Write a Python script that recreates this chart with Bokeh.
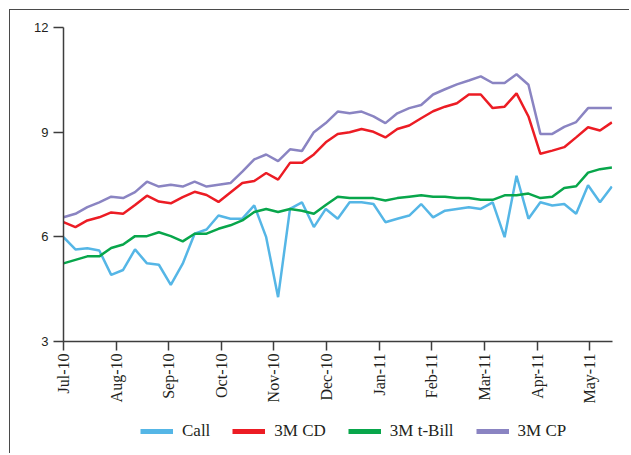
import math
from bokeh.plotting import figure
from bokeh.layouts import column
from bokeh.models import Range1d, FixedTicker, Legend, LegendItem
from bokeh.embed import file_html
from bokeh.resources import INLINE

months = ["Jul-10", "Aug-10", "Sep-10", "Oct-10", "Nov-10", "Dec-10",
          "Jan-11", "Feb-11", "Mar-11", "Apr-11", "May-11"]

call = [5.99, 5.64, 5.67, 5.61, 4.91, 5.05, 5.64, 5.24, 5.20, 4.62, 5.23, 6.09,
        6.21, 6.61, 6.52, 6.52, 6.90, 5.99, 4.27, 6.80, 6.99, 6.28, 6.80, 6.52,
        6.99, 6.99, 6.94, 6.42, 6.52, 6.61, 6.94, 6.56, 6.75, 6.80, 6.85, 6.80,
        6.99, 5.99, 7.75, 6.52, 6.99, 6.90, 6.94, 6.66, 7.48, 6.99, 7.44]
cd = [6.42, 6.28, 6.47, 6.56, 6.70, 6.66, 6.91, 7.18, 7.01, 6.96, 7.14, 7.29,
      7.20, 7.00, 7.27, 7.54, 7.60, 7.83, 7.64, 8.12, 8.12, 8.36, 8.71, 8.95,
      9.00, 9.09, 9.01, 8.85, 9.09, 9.19, 9.40, 9.60, 9.73, 9.83, 10.08, 10.08,
      9.69, 9.73, 10.11, 9.45, 8.38, 8.47, 8.57, 8.85, 9.14, 9.05, 9.28]
tbill = [5.24, 5.34, 5.44, 5.44, 5.68, 5.78, 6.02, 6.02, 6.13, 6.02, 5.87, 6.09,
         6.09, 6.23, 6.33, 6.47, 6.71, 6.80, 6.71, 6.80, 6.75, 6.66, 6.91, 7.15,
         7.11, 7.11, 7.11, 7.04, 7.11, 7.15, 7.19, 7.15, 7.15, 7.11, 7.11, 7.06,
         7.06, 7.19, 7.19, 7.24, 7.11, 7.15, 7.40, 7.45, 7.84, 7.94, 7.99]
cp = [6.56, 6.66, 6.85, 6.99, 7.15, 7.11, 7.28, 7.58, 7.44, 7.49, 7.44, 7.58,
      7.44, 7.49, 7.54, 7.87, 8.22, 8.36, 8.17, 8.51, 8.46, 9.00, 9.26, 9.59,
      9.54, 9.59, 9.45, 9.26, 9.54, 9.69, 9.78, 10.08, 10.23, 10.37, 10.48, 10.60,
      10.41, 10.41, 10.66, 10.36, 8.95, 8.95, 9.15, 9.29, 9.69, 9.69, 9.69]

series_names = ["Call", "3M CD", "3M t-Bill", "3M CP"]
series_values = [call, cd, tbill, cp]
colors = ["#55B6E6", "#EC1C24", "#08A64B", "#8A84C2"]
y_ticks = [3, 6, 9, 12]

weeks = list(range(len(call)))
weeks_per_month = 4.414
month_pos = [round(k * weeks_per_month, 3) for k in range(len(months))]

border = "1px solid #4a4a4a"

p = figure(width=620, height=400, output_backend="svg", toolbar_location=None,
           x_range=Range1d(0, 46.05), y_range=Range1d(3, 12),
           min_border_left=53, min_border_right=18, min_border_top=17,
           min_border_bottom=69)
p.styles = {"margin-left": "9px", "margin-top": "9px",
            "border-left": border, "border-top": border}
p.outline_line_color = None
p.xgrid.visible = False
p.ygrid.visible = False
p.background_fill_color = "white"
p.border_fill_color = "white"

for vals, col in zip(series_values, colors):
    p.line(weeks, vals, line_color=col, line_width=2.5)

ax_col = "#3d3d3d"
p.xaxis.ticker = FixedTicker(ticks=month_pos)
p.xaxis.major_label_overrides = {pos: lab for pos, lab in zip(month_pos, months)}
p.xaxis.major_label_orientation = math.pi / 2
p.xaxis.major_label_text_font = "Liberation Serif"
p.xaxis.major_label_text_font_size = "16px"
p.xaxis.major_label_text_color = "#231F20"
p.xaxis.major_tick_out = 9
p.xaxis.major_tick_in = 0
p.xaxis.major_label_standoff = 3
p.xaxis.minor_tick_line_color = None

p.yaxis.ticker = FixedTicker(ticks=y_ticks)
p.yaxis.major_label_text_font = "Liberation Sans"
p.yaxis.major_label_text_font_size = "13px"
p.yaxis.major_label_text_color = "#231F20"
p.yaxis.major_tick_out = 10
p.yaxis.major_tick_in = 0
p.yaxis.major_label_standoff = 5
p.yaxis.minor_tick_line_color = None

for ax in (p.xaxis, p.yaxis):
    ax.axis_line_color = ax_col
    ax.axis_line_width = 1.5
    ax.major_tick_line_color = ax_col
    ax.major_tick_line_width = 1.5

# legend strip below the chart (its ranges keep the series out of view;
# only the legend swatches of these renderers are seen)
lg = figure(width=620, height=44, output_backend="svg", toolbar_location=None,
            x_range=Range1d(-1, 0), y_range=Range1d(-1, 0),
            x_axis_type=None, y_axis_type=None, min_border=0)
lg.styles = {"margin-left": "9px", "border-left": border}
lg.outline_line_color = None
lg.background_fill_color = "white"
lg.border_fill_color = "white"

legend_items = []
for name, vals, col in zip(series_names, series_values, colors):
    r = lg.line(weeks, vals, line_color=col, line_width=5)
    legend_items.append(LegendItem(label=name, renderers=[r]))

legend = Legend(items=legend_items, orientation="horizontal", location=(77, 12),
                padding=0, margin=0, spacing=22, glyph_width=33, glyph_height=20,
                label_height=20, label_standoff=9,
                label_text_font="Liberation Serif", label_text_font_size="17px",
                label_text_color="#231F20", background_fill_alpha=0,
                border_line_color=None)
lg.add_layout(legend)

layout = column(p, lg, spacing=0)
open("out.html", "w").write(file_html(layout, INLINE))
